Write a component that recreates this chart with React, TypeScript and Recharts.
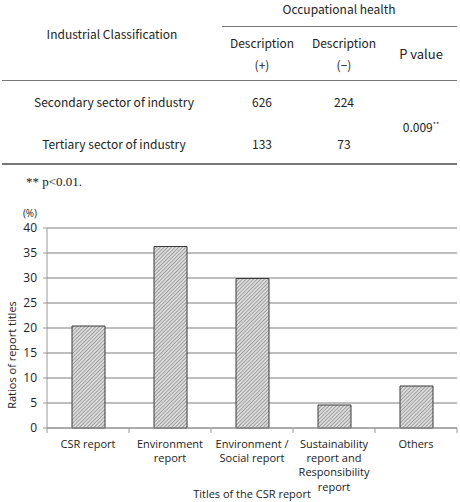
import React from "react";
import { BarChart, Bar, XAxis, YAxis, CartesianGrid } from "recharts";

// table: occupational health description by sector
const sectors = ["Secondary sector of industry", "Tertiary sector of industry"];
const describedPlus = [626, 133];
const describedMinus = [224, 73];
const pValue = "0.009";
const pStars = "**";

// bar chart: titles of the CSR reports
const categories = [
  "CSR report",
  "Environment\nreport",
  "Environment /\nSocial report",
  "Sustainability\nreport and\nResponsibility\nreport",
  "Others",
];
const ratios = [20.4, 36.3, 29.9, 4.6, 8.4];
const yTicks = [0, 5, 10, 15, 20, 25, 30, 35, 40];

const data = categories.map((name, i) => ({ name, ratio: ratios[i] }));

const tableFont = '"Noto Sans CJK JP", "Noto Sans", sans-serif';
const chartFont = '"Open Sans", "Noto Sans", sans-serif';

const Cell: React.FC<{
  x: number;
  y: number;
  size?: number;
  children: React.ReactNode;
}> = ({ x, y, size = 12, children }) => (
  <div
    style={{
      position: "absolute",
      left: x - 150,
      top: y - 10,
      width: 300,
      height: 20,
      lineHeight: "20px",
      textAlign: "center",
      fontSize: size,
      fontFamily: tableFont,
      color: "#222",
      whiteSpace: "nowrap",
    }}
  >
    {children}
  </div>
);

const Rule: React.FC<{ x1: number; x2: number; y: number; w?: number }> = ({
  x1,
  x2,
  y,
  w = 1,
}) => (
  <div
    style={{
      position: "absolute",
      left: x1,
      top: y - w / 2,
      width: x2 - x1,
      height: w,
      background: "#777",
    }}
  />
);

const CategoryTick = (props: any) => {
  const { x, y, payload, index } = props;
  const half = payload?.offset || 41;
  const lines = String(payload.value).split("\n");
  return (
    <g>
      <line x1={x - half} x2={x - half} y1={y} y2={y + 5} stroke="#999" />
      {index === categories.length - 1 && (
        <line x1={x + half} x2={x + half} y1={y} y2={y + 5} stroke="#999" />
      )}
      <text
        x={x}
        textAnchor="middle"
        fontFamily={chartFont}
        fontSize={11}
        fill="#222"
      >
        {lines.map((l, i) => (
          <tspan key={i} x={x} y={y + 19.5 + i * 14.4}>
            {l}
          </tspan>
        ))}
      </text>
    </g>
  );
};

export default function App() {
  return (
    <div
      style={{
        position: "absolute",
        left: 0,
        top: 0,
        width: 460,
        height: 502,
        overflow: "hidden",
        background: "#fff",
      }}
    >
      <Cell x={339} y={9}>Occupational health</Cell>
      <Rule x1={222} x2={457} y={26} />
      <Cell x={112} y={34}>Industrial Classification</Cell>
      <Cell x={262} y={43}>Description</Cell>
      <Cell x={262} y={65}>(+)</Cell>
      <Cell x={344} y={43}>Description</Cell>
      <Cell x={344} y={65}>(−)</Cell>
      <Cell x={421} y={54} size={13}>P value</Cell>
      <Rule x1={2} x2={457} y={80} />
      {sectors.map((s, i) => (
        <React.Fragment key={s}>
          <Cell x={114} y={102 + i * 42}>{s}</Cell>
          <Cell x={262} y={102 + i * 42}>{describedPlus[i]}</Cell>
          <Cell x={344} y={102 + i * 42}>{describedMinus[i]}</Cell>
        </React.Fragment>
      ))}
      <Cell x={421} y={124}>
        {pValue}
        <sup style={{ fontSize: 7 }}>{pStars}</sup>
      </Cell>
      <Rule x1={2} x2={457} y={163.5} w={2} />
      <div
        style={{
          position: "absolute",
          left: 26,
          top: 174,
          fontFamily: '"Liberation Serif", "DejaVu Serif", serif',
          fontSize: 13,
          color: "#222",
        }}
      >
        ** p&lt;0.01.
      </div>

      <div style={{ position: "absolute", left: 0, top: 190 }}>
        <BarChart
          width={460}
          height={330}
          data={data}
          margin={{ top: 38, right: 3, bottom: 0, left: 0 }}
          barSize={33}
        >
          <defs>
            <pattern
              id="hatch"
              width={2.6}
              height={2.6}
              patternUnits="userSpaceOnUse"
              patternTransform="rotate(45)"
            >
              <rect width={2.6} height={2.6} fill="#dcdcdc" />
              <line x1={0} y1={0} x2={0} y2={2.6} stroke="#7a7a7a" strokeWidth={1.2} />
            </pattern>
          </defs>
          <CartesianGrid vertical={false} stroke="#a8a8a8" strokeWidth={1.3} />
          <XAxis
            dataKey="name"
            height={92}
            interval={0}
            axisLine={{ stroke: "#999" }}
            tickLine={false}
            tickSize={0}
            tickMargin={0}
            tick={<CategoryTick />}
            label={{
              content: (p: any) => (
                <text
                  x={p.viewBox.x + p.viewBox.width / 2}
                  y={p.viewBox.y + 65}
                  textAnchor="middle"
                  dominantBaseline="central"
                  fontFamily={chartFont}
                  fontSize={11}
                  fill="#222"
                >
                  Titles of the CSR report
                </text>
              ),
            }}
          />
          <YAxis
            width={47}
            domain={[0, 40]}
            ticks={yTicks}
            interval={0}
            axisLine={{ stroke: "#999" }}
            tickLine={{ stroke: "#999" }}
            tickSize={4}
            tickMargin={6}
            tick={{ fontFamily: chartFont, fontSize: 12, fill: "#222" }}
            label={{
              content: (p: any) => (
                <g>
                  <text
                    x={30}
                    y={p.viewBox.y - 15}
                    textAnchor="middle"
                    dominantBaseline="central"
                    fontFamily={chartFont}
                    fontSize={10}
                    fill="#222"
                  >
                    (%)
                  </text>
                  <text
                    x={11}
                    y={p.viewBox.y + 127}
                    textAnchor="middle"
                    dominantBaseline="central"
                    transform={`rotate(-90 11 ${p.viewBox.y + 127})`}
                    fontFamily={chartFont}
                    fontSize={11}
                    fill="#222"
                  >
                    Ratios of report titles
                  </text>
                </g>
              ),
            }}
          />
          <Bar
            dataKey="ratio"
            fill="url(#hatch)"
            stroke="#3a3a3a"
            strokeWidth={1}
            isAnimationActive={false}
          />
        </BarChart>
      </div>
    </div>
  );
}
